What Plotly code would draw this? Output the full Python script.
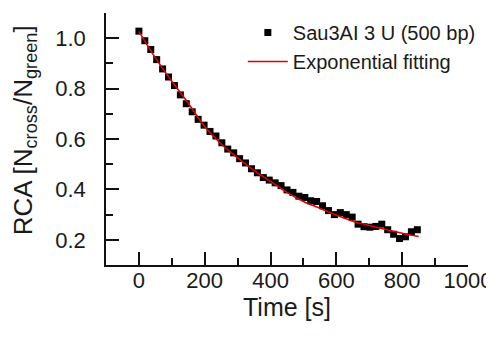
import plotly.graph_objects as go

# Measured data (Time [s], RCA)
time_s = [0, 18, 36, 54, 72, 90, 108, 126, 144, 162, 180, 198, 216, 234, 252, 270,
          288, 306, 324, 342, 360, 378, 396, 414, 432, 450, 468, 486, 504, 522, 540,
          558, 576, 594, 612, 630, 648, 666, 684, 702, 720, 738, 756, 774, 792, 810,
          828, 846]
rca = [1.028, 0.990, 0.955, 0.915, 0.878, 0.846, 0.812, 0.775, 0.740, 0.708, 0.678,
       0.655, 0.630, 0.612, 0.585, 0.560, 0.545, 0.522, 0.505, 0.482, 0.466, 0.447,
       0.437, 0.426, 0.415, 0.398, 0.388, 0.373, 0.368, 0.355, 0.352, 0.335, 0.316,
       0.300, 0.308, 0.300, 0.290, 0.262, 0.252, 0.250, 0.253, 0.262, 0.240, 0.222,
       0.205, 0.212, 0.232, 0.240]

# Exponential fitting curve
fit_t = [0, 50, 100, 150, 200, 250, 300, 350, 400, 450, 500, 550, 600, 650, 700,
         750, 800, 850]
fit_rca = [1.027, 0.922, 0.829, 0.742, 0.650, 0.580, 0.525, 0.475, 0.432, 0.388,
           0.352, 0.325, 0.298, 0.274, 0.257, 0.241, 0.226, 0.213]

x_ticks = [0, 200, 400, 600, 800, 1000]
y_ticks = [0.2, 0.4, 0.6, 0.8, 1.0]

FONT = "Arial, 'Liberation Sans', sans-serif"
TXT = "#1a1a1a"

fig = go.Figure()
fig.add_trace(go.Scatter(
    x=time_s, y=rca, mode="markers", name="Sau3AI 3 U (500 bp)",
    marker=dict(symbol="square", size=7, color="black", line=dict(width=0)),
))
fig.add_trace(go.Scatter(
    x=fit_t, y=fit_rca, mode="lines", name="Exponential fitting",
    line=dict(color="#e00000", width=1.6, shape="spline"),
))

axis_common = dict(
    showline=True, linecolor="#111111", linewidth=1.5, mirror=False,
    showgrid=False, zeroline=False, ticks="inside", ticklen=13, tickwidth=1.5,
    tickcolor="#111111", tickfont=dict(family=FONT, size=22, color=TXT),
    automargin=False,
)

fig.update_xaxes(
    range=[-100, 1000], tickvals=x_ticks,
    minor=dict(ticks="inside", ticklen=7, tickwidth=1.5, tickcolor="#111111", dtick=100, tick0=0),
    title=dict(text="Time [s]", font=dict(family=FONT, size=25, color=TXT), standoff=6),
    ticklabelstandoff=-5,
    **axis_common,
)
fig.update_yaxes(
    range=[0.1, 1.1], tickvals=y_ticks, tickformat=".1f",
    minor=dict(ticks="inside", ticklen=7, tickwidth=1.5, tickcolor="#111111", dtick=0.1, tick0=0),
    ticklabelstandoff=14,
    **axis_common,
)

# y-axis title as rotated text, placed left of the tick labels
fig.add_annotation(
    text="RCA [N<sub>cross</sub>/N<sub>green</sub>]",
    xref="paper", yref="paper", x=0, y=0.535,
    xanchor="center", yanchor="middle", xshift=-82,
    textangle=-90, showarrow=False,
    font=dict(family=FONT, size=26, color=TXT),
)

# page body adds an 8px offset, so the figure is 8px smaller and margins shifted
fig.update_layout(
    width=486, height=332,
    margin=dict(l=98, r=26, t=5, b=75, autoexpand=False),
    paper_bgcolor="white", plot_bgcolor="white",
    showlegend=True,
    legend=dict(
        x=0.378, y=1.0, xanchor="left", yanchor="top",
        bgcolor="rgba(0,0,0,0)", borderwidth=0,
        font=dict(family=FONT, size=20, color=TXT),
        itemwidth=40, tracegroupgap=0,
    ),
)

fig.write_html("out.html")
